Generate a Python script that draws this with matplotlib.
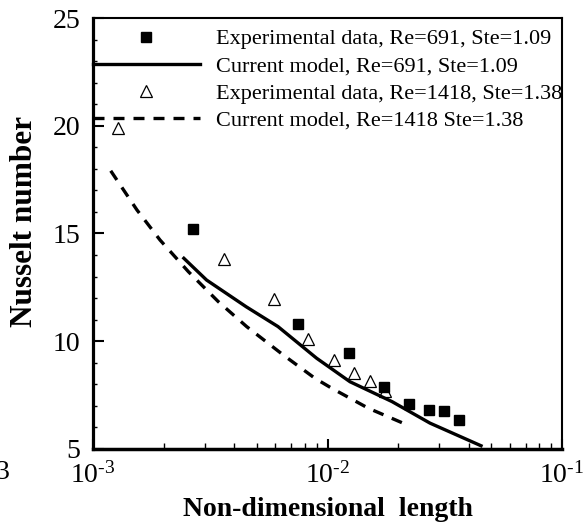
import numpy as np
import matplotlib.pyplot as plt
from matplotlib.ticker import LogLocator, MultipleLocator, NullFormatter

plt.rcParams['font.family'] = ['Liberation Serif', 'DejaVu Serif']
plt.rcParams['mathtext.fontset'] = 'custom'
plt.rcParams['mathtext.rm'] = 'Liberation Serif'

# experimental data, Re=691, Ste=1.09
exp691_x = [0.00267, 0.00751, 0.01239, 0.01741, 0.02233, 0.02716, 0.03148, 0.03648]
exp691_y = [15.19, 10.80, 9.44, 7.89, 7.07, 6.81, 6.78, 6.35]

# current model, Re=691, Ste=1.09
mod691_x = [0.00244, 0.00305, 0.00450, 0.00615, 0.00899, 0.01247, 0.01883, 0.02735, 0.04515]
mod691_y = [13.85, 12.84, 11.60, 10.68, 9.21, 8.12, 7.20, 6.20, 5.15]

# experimental data, Re=1418, Ste=1.38
exp1418_x = [0.001284, 0.00363, 0.00593, 0.00828, 0.01066, 0.01301, 0.01518, 0.01758]
exp1418_y = [19.88, 13.82, 11.96, 10.09, 9.13, 8.51, 8.17, 7.71]

# current model, Re=1418, Ste=1.38
mod1418_x = [0.00119, 0.00154, 0.00193, 0.00255, 0.00342, 0.00452, 0.00648, 0.00884, 0.01042, 0.01494, 0.0214]
mod1418_y = [17.91, 16.09, 14.70, 13.23, 11.84, 10.68, 9.36, 8.28, 7.82, 6.89, 6.16]

labels = ['Experimental data, Re=691, Ste=1.09',
          'Current model, Re=691, Ste=1.09',
          'Experimental data, Re=1418, Ste=1.38',
          'Current model, Re=1418 Ste=1.38']
xtick_vals = [1e-3, 1e-2, 1e-1]
xtick_labels = [r'$\mathregular{10^{\text{-}3}}$', r'$\mathregular{10^{\text{-}2}}$', r'$\mathregular{10^{\text{-}1}}$']

fig = plt.figure(figsize=(5.85, 5.25), dpi=100)
ax = fig.add_axes([0.159, 0.1448, 0.8017, 0.8209])

h1, = ax.plot(exp691_x, exp691_y, 's', color='black', markersize=7.5, zorder=4)
h2, = ax.plot(mod691_x, mod691_y, '-', color='black', lw=2.4)
h3, = ax.plot(exp1418_x, exp1418_y, '^', mfc='none', mec='black', mew=0.9, markersize=9, zorder=3)
h4, = ax.plot(mod1418_x, mod1418_y, color='black', lw=2.4, linestyle=(0, (3.3, 2.7)))

ax.set_xscale('log')
ax.set_xlim(1e-3, 1e-1)
ax.set_ylim(5, 25)

ax.xaxis.set_minor_locator(LogLocator(base=10, subs=np.arange(2, 10), numticks=20))
ax.xaxis.set_minor_formatter(NullFormatter())
ax.set_xticks(xtick_vals)
ax.set_xticklabels(xtick_labels)
ax.yaxis.set_major_locator(MultipleLocator(5))
ax.yaxis.set_minor_locator(MultipleLocator(1))

ax.tick_params(which='both', direction='in', top=False, right=False, labelsize=20)
ax.tick_params(axis='y', which='major', length=8, width=1.5, pad=9)
ax.tick_params(axis='y', which='minor', length=3, width=1)
ax.tick_params(axis='x', which='major', length=7, width=1.5, pad=9.5)
ax.tick_params(axis='x', which='minor', length=4, width=1)

ax.spines['left'].set_linewidth(2.3)
ax.spines['bottom'].set_linewidth(2.5)
ax.spines['top'].set_linewidth(1.5)
ax.spines['right'].set_linewidth(1.5)

ax.set_xlabel('Non-dimensional  length', fontsize=20, fontweight='bold')
ax.set_ylabel('Nusselt number', fontsize=22.5, fontweight='bold')
ax.xaxis.set_label_coords(0.5, -0.112)
ax.yaxis.set_label_coords(-0.115, 0.528)

ax.legend([h1, h2, h3, h4], labels, loc='upper left', bbox_to_anchor=(0, 0.975),
          frameon=False, fontsize=16, numpoints=1, handlelength=4.8,
          handletextpad=0.75, labelspacing=0.3, borderpad=0, borderaxespad=0)

fig.text(-4 / 585, 0.088, '3', fontsize=20)

plt.savefig('out.png', dpi=100)
